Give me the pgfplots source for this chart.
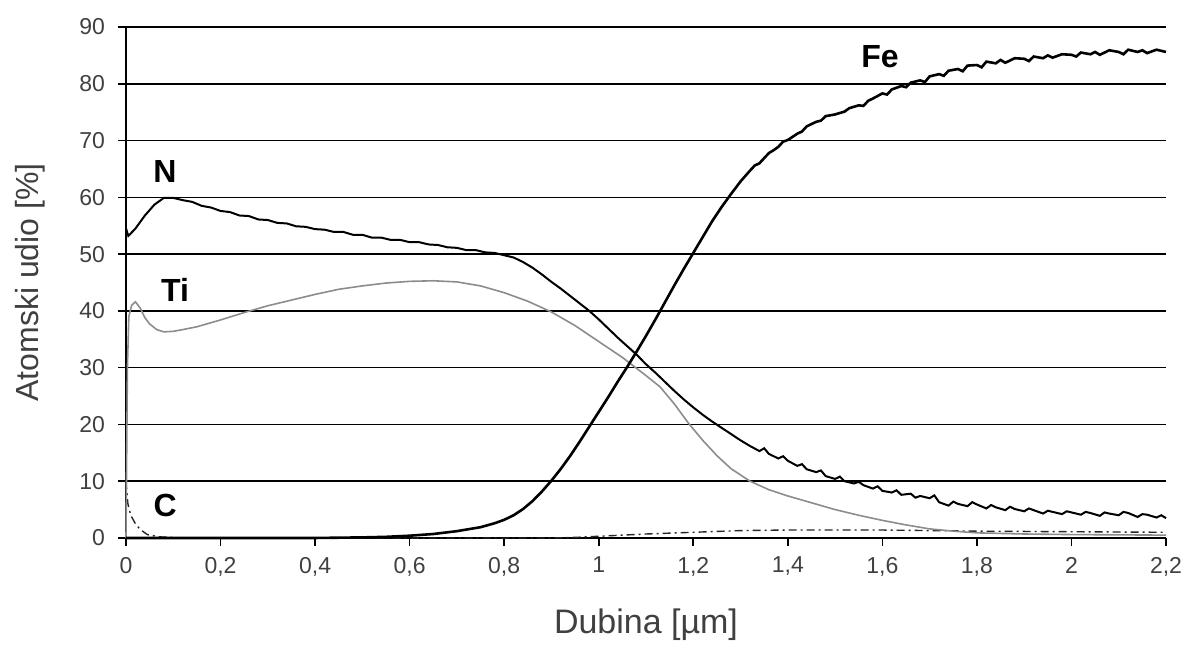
\documentclass[border=0pt]{standalone}
\usepackage{fontspec}
\setmainfont{Liberation Sans}
\usepackage{pgfplots}
\pgfplotsset{compat=1.18}
\begin{document}
\begin{tikzpicture}
\begin{axis}[
  scale only axis,
  width=520pt, height=255.5pt,
  xmin=0, xmax=2.2, ymin=0, ymax=90,
  axis x line*=bottom, axis y line*=left,
  axis line style={-, line width=1pt, black},
  xtick={0,0.2,...,2.2}, ytick={0,10,...,90},
  tick align=outside, major tick length=4pt,
  tick style={line width=0.8pt, black},
  ymajorgrids, grid style={line width=0.75pt, black},
  /pgf/number format/use comma,
  /pgf/number format/assume math mode=true,
  ticklabel style={font=\fontsize{11.5}{13}\selectfont, color=black!75},
  xticklabel style={yshift=-2pt},
  yticklabel style={xshift=-3pt},
  xlabel={Dubina [µm]}, ylabel={Atomski udio [\%]},
  xlabel style={font=\fontsize{17}{19}\selectfont, color=black!75, at={(axis description cs:0.5,-0.17)}, anchor=center},
  ylabel style={font=\fontsize{16}{18}\selectfont, color=black!75, at={(axis description cs:-0.092,0.5)}, anchor=center},
  clip=false,
]
% C
\addplot[line width=0.7pt, black!85, dash pattern=on 4pt off 2pt on 1pt off 2pt] coordinates {
(0,10) (0.004,6) (0.01,4) (0.02,2.5) (0.03,1.5) (0.045,0.6) (0.07,0.2) (0.12,0)
(0.9,0) (0.95,0.1) (1.0,0.3) (1.1,0.7) (1.2,1.0) (1.3,1.3) (1.4,1.4) (1.6,1.4)
(1.8,1.2) (2.0,1.1) (2.2,1.0)};
% Ti
\addplot[line width=0.8pt, black!45] coordinates {
(0,0) (0.003,30) (0.006,39) (0.012,41) (0.02,41.6) (0.03,40.5) (0.04,38.8)
(0.05,37.7) (0.065,36.7) (0.08,36.3) (0.10,36.4) (0.12,36.7) (0.15,37.2)
(0.20,38.4) (0.25,39.7) (0.30,40.9) (0.35,41.9) (0.40,42.9) (0.45,43.8)
(0.50,44.4) (0.55,44.9) (0.60,45.2) (0.65,45.3) (0.70,45.1) (0.75,44.4)
(0.80,43.2) (0.85,41.7) (0.90,39.8) (0.95,37.4) (1.00,34.6) (1.05,31.8)
(1.10,28.6) (1.13,26.6) (1.16,23.6) (1.19,20.2) (1.22,17.2) (1.25,14.5) (1.28,12.2)
(1.32,10.0) (1.36,8.5) (1.40,7.4) (1.45,6.2) (1.50,5.0) (1.55,4.0) (1.60,3.1) (1.65,2.3)
(1.70,1.6) (1.75,1.2) (1.80,0.9) (1.90,0.7) (2.00,0.6) (2.20,0.5)};
% N
\addplot[line width=1pt, black] coordinates {
(0,54.5) (0.005,53.2) (0.02,54.5) (0.04,56.8) (0.06,58.7) (0.08,59.9) (0.10,59.9)
(0.12,59.5) (0.14,59.2) (0.16,58.5) (0.18,58.2) (0.20,57.6) (0.22,57.4) (0.24,56.8)
(0.26,56.7) (0.28,56.1) (0.30,56.0) (0.32,55.5) (0.34,55.4) (0.36,54.9) (0.38,54.8)
(0.40,54.4) (0.42,54.3) (0.44,53.9) (0.46,53.9) (0.48,53.4) (0.50,53.4) (0.52,52.9)
(0.54,52.9) (0.56,52.5) (0.58,52.5) (0.60,52.1) (0.62,52.1) (0.64,51.7) (0.66,51.6)
(0.68,51.2) (0.70,51.1) (0.72,50.7) (0.74,50.7) (0.76,50.3) (0.78,50.2) (0.80,49.8)
(0.82,49.4) (0.84,48.6) (0.86,47.6) (0.88,46.4) (0.90,45.1) (0.92,43.9) (0.94,42.6)
(0.96,41.3) (0.98,40.0) (1.00,38.5) (1.02,36.9) (1.04,35.3) (1.06,33.8) (1.08,32.3)
(1.10,30.6) (1.12,29.1) (1.14,27.5) (1.16,25.9) (1.18,24.4) (1.20,23.0) (1.22,21.7)
(1.24,20.5) (1.26,19.4) (1.28,18.3) (1.30,17.2) (1.32,16.2) (1.34,15.3) (1.35,15.8)
(1.36,14.8) (1.38,14.0) (1.39,14.4) (1.40,13.6) (1.42,12.7) (1.43,13.0) (1.44,12.1)
(1.46,11.6) (1.47,11.9) (1.48,10.9) (1.50,10.4) (1.51,10.8) (1.52,10.0) (1.54,9.6)
(1.55,9.9) (1.56,9.3) (1.58,8.7) (1.59,9.1) (1.60,8.3) (1.62,8.0) (1.63,8.4)
(1.64,7.6) (1.66,7.8) (1.67,7.1) (1.68,7.4) (1.70,7.0) (1.71,7.5) (1.72,6.3)
(1.74,5.7) (1.75,6.4) (1.76,6.0) (1.78,5.6) (1.79,6.3) (1.80,5.9) (1.82,5.2)
(1.83,5.8) (1.84,5.4) (1.86,4.9) (1.87,5.5) (1.88,5.1) (1.90,4.7) (1.91,5.2)
(1.92,4.9) (1.94,4.3) (1.95,4.8) (1.96,4.6) (1.98,4.2) (1.99,4.7) (2.00,4.5)
(2.02,4.1) (2.03,4.6) (2.04,4.4) (2.06,3.9) (2.07,4.5) (2.08,4.3) (2.10,4.0)
(2.11,4.6) (2.12,4.4) (2.14,3.7) (2.15,4.2) (2.16,4.1) (2.18,3.6) (2.19,4.0) (2.20,3.5)};
% Fe
\addplot[line width=1.3pt, black] coordinates {
(0,0) (0.4,0) (0.5,0.1) (0.55,0.2) (0.6,0.4) (0.65,0.7) (0.7,1.2) (0.75,1.9)
(0.78,2.6) (0.80,3.2) (0.82,4.0) (0.84,5.1) (0.86,6.5) (0.88,8.2) (0.90,10.1)
(0.92,12.2) (0.94,14.5) (0.96,17.0) (0.98,19.6) (1.00,22.2) (1.02,24.8) (1.04,27.5)
(1.06,30.1) (1.08,32.8) (1.10,35.6) (1.12,38.5) (1.14,41.5) (1.16,44.5) (1.18,47.4)
(1.20,50.2) (1.22,53.0) (1.24,55.8) (1.26,58.3) (1.28,60.6) (1.30,62.8) (1.32,64.7) (1.33,65.6) (1.34,66.0)
(1.36,67.8) (1.37,68.3) (1.38,68.9) (1.39,69.8) (1.40,70.1) (1.42,71.2) (1.43,71.6)
(1.44,72.5) (1.46,73.3) (1.47,73.5) (1.48,74.3) (1.50,74.6) (1.52,75.1) (1.53,75.7)
(1.55,76.2) (1.56,76.1) (1.57,77.0) (1.58,77.4) (1.60,78.3) (1.61,78.1) (1.62,79.0)
(1.64,79.6) (1.65,79.4) (1.66,80.2) (1.68,80.6) (1.69,80.3) (1.70,81.3) (1.72,81.7)
(1.73,81.4) (1.74,82.3) (1.76,82.6) (1.77,82.2) (1.78,83.2) (1.80,83.3) (1.81,82.9)
(1.82,83.9) (1.84,83.6) (1.85,84.2) (1.86,83.7) (1.88,84.5) (1.90,84.4) (1.91,84.0)
(1.92,84.8) (1.94,84.5) (1.95,85.0) (1.96,84.6) (1.98,85.2) (2.00,85.1) (2.01,84.8)
(2.02,85.5) (2.04,85.2) (2.05,85.6) (2.06,85.1) (2.08,85.9) (2.10,85.6) (2.11,85.2)
(2.12,86.0) (2.14,85.6) (2.15,85.9) (2.16,85.4) (2.18,86.0) (2.20,85.6)};
\node[font=\bfseries\fontsize{16}{18}\selectfont] at (axis cs:1.595,84.7) {Fe};
\node[font=\bfseries\fontsize{16}{18}\selectfont] at (axis cs:0.0825,64.6) {N};
\node[font=\bfseries\fontsize{16}{18}\selectfont] at (axis cs:0.104,43.7) {Ti};
\node[font=\bfseries\fontsize{16}{18}\selectfont] at (axis cs:0.083,5.8) {C};
\end{axis}
\pgfresetboundingbox
\path ([xshift=-63pt,yshift=-56.5pt]current axis.south west) rectangle ([xshift=14pt,yshift=13.5pt]current axis.north east);
\end{tikzpicture}
\end{document}
